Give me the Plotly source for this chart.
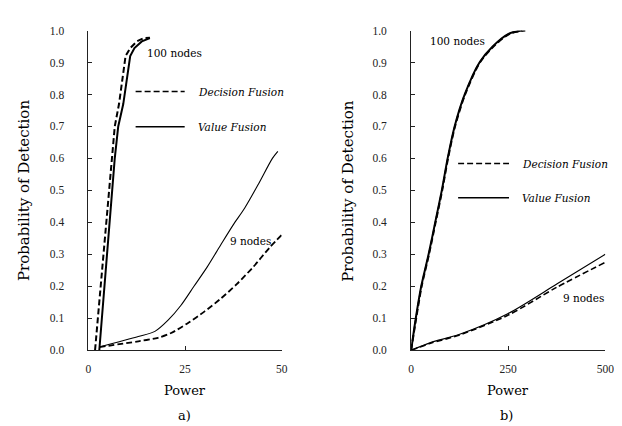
import plotly.graph_objects as go

# ---------------- data ----------------
# Panel a (Power 0-50)
a_df100_x = [1.7, 4.7, 5.2, 5.9, 6.8, 7.9, 8.5, 9.0, 9.6, 10.8, 12.5, 14.2, 15.9]
a_df100_y = [0.0, 0.41, 0.50, 0.60, 0.70, 0.77, 0.82, 0.87, 0.92, 0.945, 0.966, 0.976, 0.977]
a_vf100_x = [2.8, 5.4, 6.0, 6.8, 7.7, 9.0, 9.6, 10.2, 10.6, 10.8, 11.9, 13.8, 15.9]
a_vf100_y = [0.0, 0.40, 0.50, 0.60, 0.70, 0.77, 0.82, 0.87, 0.90, 0.92, 0.945, 0.966, 0.976]
a_vf9_x = [2.8, 12.9, 17.2, 20.6, 23.9, 27.3, 30.7, 34.1, 37.5, 40.4, 44.0, 47.6, 49.0]
a_vf9_y = [0.01, 0.043, 0.059, 0.094, 0.14, 0.20, 0.26, 0.327, 0.393, 0.444, 0.52, 0.60, 0.622]
a_df9_x = [2.8, 12.9, 18.0, 21.4, 25.6, 29.9, 34.1, 38.3, 42.6, 46.8, 50.2]
a_df9_y = [0.01, 0.028, 0.039, 0.054, 0.084, 0.12, 0.16, 0.206, 0.26, 0.32, 0.363]

# Panel b (Power 0-500)
b_vf100_x = [0, 12, 26, 45, 62, 79, 94, 112, 138, 176, 210, 252, 285]
b_vf100_y = [0.0, 0.10, 0.20, 0.30, 0.40, 0.50, 0.60, 0.70, 0.80, 0.90, 0.95, 0.99, 1.0]
b_df100_x = [0, 13, 27, 46, 63, 80, 95, 113, 139, 177, 212, 254, 294]
b_df100_y = [0.0, 0.10, 0.20, 0.30, 0.40, 0.50, 0.60, 0.70, 0.80, 0.90, 0.95, 0.99, 1.0]
b_vf9_x = [0, 50, 125, 250, 375, 500]
b_vf9_y = [0.0, 0.024, 0.05, 0.115, 0.207, 0.30]
b_df9_x = [0, 50, 125, 250, 375, 500]
b_df9_y = [0.0, 0.022, 0.048, 0.11, 0.197, 0.275]

# legend sample segments
a_leg_x = [12.2, 24.9]
a_leg_df_y = [0.809, 0.809]
a_leg_vf_y = [0.699, 0.699]
b_leg_x = [121, 252]
b_leg_df_y = [0.584, 0.584]
b_leg_vf_y = [0.477, 0.477]

y_ticks = [0.0, 0.1, 0.2, 0.3, 0.4, 0.5, 0.6, 0.7, 0.8, 0.9, 1.0]
a_x_ticks = [0, 25, 50]
b_x_ticks = [0, 250, 500]

FONT = "DejaVu Serif"
TICKFONT = "serif"
DASH = "6px,3px"
W, H = 622, 426

fig = go.Figure()

def line(x, y, xa, ya, dash=None, width=2.0, shape="linear"):
    fig.add_trace(go.Scatter(
        x=x, y=y, mode="lines", xaxis=xa, yaxis=ya, showlegend=False,
        line=dict(color="black", width=width, dash=dash if dash else "solid",
                  shape=shape, smoothing=0.8 if shape == "spline" else None),
        hoverinfo="skip"))

# panel a
line(a_df100_x, a_df100_y, "x", "y", DASH, 2.0)
line(a_vf100_x, a_vf100_y, "x", "y", None, 2.0)
line(a_vf9_x, a_vf9_y, "x", "y", None, 1.1, "spline")
line(a_df9_x, a_df9_y, "x", "y", DASH, 1.8, "spline")
line(a_leg_x, a_leg_df_y, "x", "y", DASH, 1.5)
line(a_leg_x, a_leg_vf_y, "x", "y", None, 1.5)
# panel b
line(b_df100_x, b_df100_y, "x2", "y2", DASH, 2.0, "spline")
line(b_vf100_x, b_vf100_y, "x2", "y2", None, 2.0, "spline")
line(b_vf9_x, b_vf9_y, "x2", "y2", None, 1.2, "spline")
line(b_df9_x, b_df9_y, "x2", "y2", DASH, 1.6, "spline")
line(b_leg_x, b_leg_df_y, "x2", "y2", DASH, 1.5)
line(b_leg_x, b_leg_vf_y, "x2", "y2", None, 1.5)

# plot areas in pixels
ax_a = (79, 276)
ax_b = (408, 606)
y_top, y_bot = 17, 346
ydom = [(H - y_bot) / H, (H - y_top) / H]

common_axis = dict(showgrid=False, zeroline=False, showline=True, linecolor="#222",
                   linewidth=1, ticks="inside", ticklen=4, tickcolor="#222",
                   tickfont=dict(family=TICKFONT, size=11.5, color="#222"), mirror=False)

fig.update_layout(
    width=W, height=H, margin=dict(l=0, r=0, t=0, b=0),
    plot_bgcolor="white", paper_bgcolor="white", showlegend=False,
    font=dict(family=FONT),
    xaxis=dict(domain=[ax_a[0] / W, ax_a[1] / W], range=[0, 50], tickvals=a_x_ticks,
               ticktext=[str(v) for v in a_x_ticks], anchor="y", ticklabelstandoff=8,
               **common_axis),
    yaxis=dict(domain=ydom, range=[0, 1.0], tickvals=y_ticks,
               ticktext=["%.1f" % v for v in y_ticks], anchor="x", ticklabelstandoff=21,
               **common_axis),
    xaxis2=dict(domain=[ax_b[0] / W, ax_b[1] / W], range=[0, 500], tickvals=b_x_ticks,
                ticktext=[str(v) for v in b_x_ticks], anchor="y2", ticklabelstandoff=8,
                **common_axis),
    yaxis2=dict(domain=ydom, range=[0, 1.0], tickvals=y_ticks,
                ticktext=["%.1f" % v for v in y_ticks], anchor="x2", ticklabelstandoff=21,
                **common_axis),
)

anns = []
def txt(text, x, y, xref, yref, size=12, italic=False, xanchor="center", angle=0, fam=FONT):
    anns.append(dict(text=("<i>%s</i>" % text) if italic else text, x=x, y=y, xref=xref,
                     yref=yref, showarrow=False, xanchor=xanchor, yanchor="middle",
                     textangle=angle,
                     font=dict(family=fam, size=size, color="black")))

# in-plot labels
txt("100 nodes", 22.2, 0.93, "x", "y", 10.5)
txt("9 nodes", 42, 0.343, "x", "y", 10.5)
txt("Decision Fusion", 27.9, 0.809, "x", "y", 10.5, italic=True, xanchor="left")
txt("Value Fusion", 27.9, 0.699, "x", "y", 10.5, italic=True, xanchor="left")
txt("100 nodes", 119, 0.968, "x2", "y2", 10.5)
txt("9 nodes", 445, 0.163, "x2", "y2", 10.5)
txt("Decision Fusion", 281, 0.584, "x2", "y2", 10.5, italic=True, xanchor="left")
txt("Value Fusion", 281, 0.477, "x2", "y2", 10.5, italic=True, xanchor="left")

# axis titles and panel labels (paper coords)
def px(xp): return xp / W
def py(yp): return 1 - yp / H
ymid = (y_top + y_bot) / 2
txt("Probability of Detection", px(14), py(ymid), "paper", "paper", 15, angle=-90)
txt("Probability of Detection", px(344), py(ymid), "paper", "paper", 15, angle=-90)
txt("Power", px(177), py(387), "paper", "paper", 13)
txt("Power", px(507), py(387), "paper", "paper", 13)
txt("a)", px(177), py(413), "paper", "paper", 13)
txt("b)", px(505), py(413), "paper", "paper", 13)

fig.update_layout(annotations=anns)
fig.write_html("out.html")
